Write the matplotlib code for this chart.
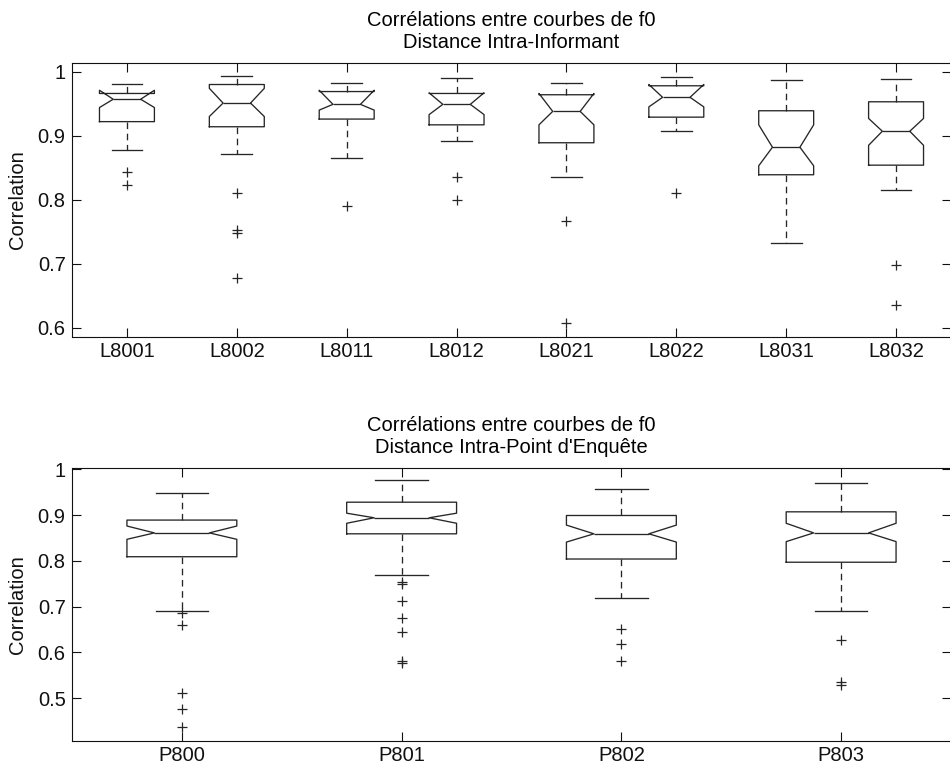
import matplotlib
matplotlib.use("Agg")
import matplotlib.pyplot as plt

plt.rcParams["font.family"] = ["Liberation Sans", "DejaVu Sans"]

# --- top panel: intra-informant distance ---
informants   = ["L8001", "L8002", "L8011", "L8012", "L8021", "L8022", "L8031", "L8032"]
inf_whishi   = [0.981, 0.993, 0.983, 0.990, 0.983, 0.992, 0.987, 0.988]
inf_q3       = [0.966, 0.980, 0.969, 0.966, 0.964, 0.978, 0.939, 0.953]
inf_cihi     = [0.971, 0.974, 0.971, 0.967, 0.966, 0.980, 0.917, 0.927]
inf_med      = [0.957, 0.951, 0.949, 0.949, 0.938, 0.960, 0.882, 0.907]
inf_cilo     = [0.944, 0.930, 0.940, 0.933, 0.917, 0.945, 0.853, 0.885]
inf_q1       = [0.922, 0.914, 0.926, 0.917, 0.889, 0.929, 0.839, 0.854]
inf_whislo   = [0.877, 0.871, 0.865, 0.892, 0.835, 0.908, 0.733, 0.815]
inf_fliers   = [[0.843, 0.823], [0.811, 0.752, 0.748, 0.677], [0.790],
                [0.836, 0.800], [0.767, 0.607], [0.811], [], [0.698, 0.635]]

# --- bottom panel: intra survey point distance ---
points       = ["P800", "P801", "P802", "P803"]
pt_whishi    = [0.947, 0.976, 0.957, 0.969]
pt_q3        = [0.889, 0.928, 0.899, 0.907]
pt_cihi      = [0.876, 0.904, 0.878, 0.882]
pt_med       = [0.861, 0.894, 0.859, 0.861]
pt_cilo      = [0.847, 0.882, 0.841, 0.842]
pt_q1        = [0.809, 0.859, 0.804, 0.797]
pt_whislo    = [0.691, 0.769, 0.719, 0.691]
pt_fliers    = [[0.687, 0.659, 0.511, 0.476, 0.437],
                [0.753, 0.749, 0.712, 0.675, 0.644, 0.581, 0.578],
                [0.651, 0.619, 0.582], [0.627, 0.536, 0.529]]

LINE = "#262626"
FS = 14.5


def make_stats(labels, whislo, q1, cilo, med, cihi, q3, whishi, fliers):
    stats = []
    for i in range(len(labels)):
        stats.append(dict(label=labels[i], whislo=whislo[i], q1=q1[i], cilo=cilo[i],
                          med=med[i], cihi=cihi[i], q3=q3[i], whishi=whishi[i],
                          fliers=fliers[i]))
    return stats


def draw_panel(ax, stats, capw, ylim, yticks, yticklabels, title):
    ax.bxp(stats, shownotches=True, widths=0.5, capwidths=capw, showfliers=True,
           boxprops=dict(color=LINE, lw=0.95),
           medianprops=dict(color=LINE, lw=0.95),
           whiskerprops=dict(color=LINE, lw=0.95, linestyle=(0, (5, 3.5))),
           capprops=dict(color=LINE, lw=0.95),
           flierprops=dict(marker="+", markersize=7, markeredgecolor=LINE,
                           markeredgewidth=0.9, linestyle="none"))
    ax.set_xlim(0.5, len(stats) + 0.5)
    ax.set_ylim(*ylim)
    ax.set_yticks(yticks)
    ax.set_yticklabels(yticklabels)
    ax.tick_params(direction="in", top=True, right=True, length=6.5, width=0.8,
                   labelsize=FS, colors="#111111")
    ax.tick_params(axis="y", pad=4.5)
    ax.tick_params(axis="x", pad=3.5)
    for sp in ax.spines.values():
        sp.set_linewidth(0.8)
        sp.set_color("#111111")
    ax.set_title(title, fontsize=FS, pad=11, linespacing=1.2)


fig = plt.figure(figsize=(9.5, 7.7), dpi=100)
W, H = 950.0, 770.0
left, right = 72 / W, 951 / W

ax1 = fig.add_axes([left, (H - 336.7) / H, right - left, (336.7 - 63) / H])
draw_panel(ax1,
           make_stats(informants, inf_whislo, inf_q1, inf_cilo, inf_med, inf_cihi,
                      inf_q3, inf_whishi, inf_fliers),
           0.28, (0.586, 1.0136), [0.6, 0.7, 0.8, 0.9, 1.0],
           ["0.6", "0.7", "0.8", "0.9", "1"],
           "Corrélations entre courbes de f0\nDistance Intra-Informant")

ax2 = fig.add_axes([left, (H - 741) / H, right - left, (741 - 468.3) / H])
draw_panel(ax2,
           make_stats(points, pt_whislo, pt_q1, pt_cilo, pt_med, pt_cihi,
                      pt_q3, pt_whishi, pt_fliers),
           0.24, (0.4068, 1.002), [0.5, 0.6, 0.7, 0.8, 0.9, 1.0],
           ["0.5", "0.6", "0.7", "0.8", "0.9", "1"],
           "Corrélations entre courbes de f0\nDistance Intra-Point d'Enquête")

# y labels, MATLAB style
fig.text(18 / W, (H - 200) / H, "Correlation", rotation=90, ha="center", va="center",
         fontsize=FS, color="#111111")
fig.text(18 / W, (H - 605) / H, "Correlation", rotation=90, ha="center", va="center",
         fontsize=FS, color="#111111")

fig.savefig("out.png", dpi=100)
